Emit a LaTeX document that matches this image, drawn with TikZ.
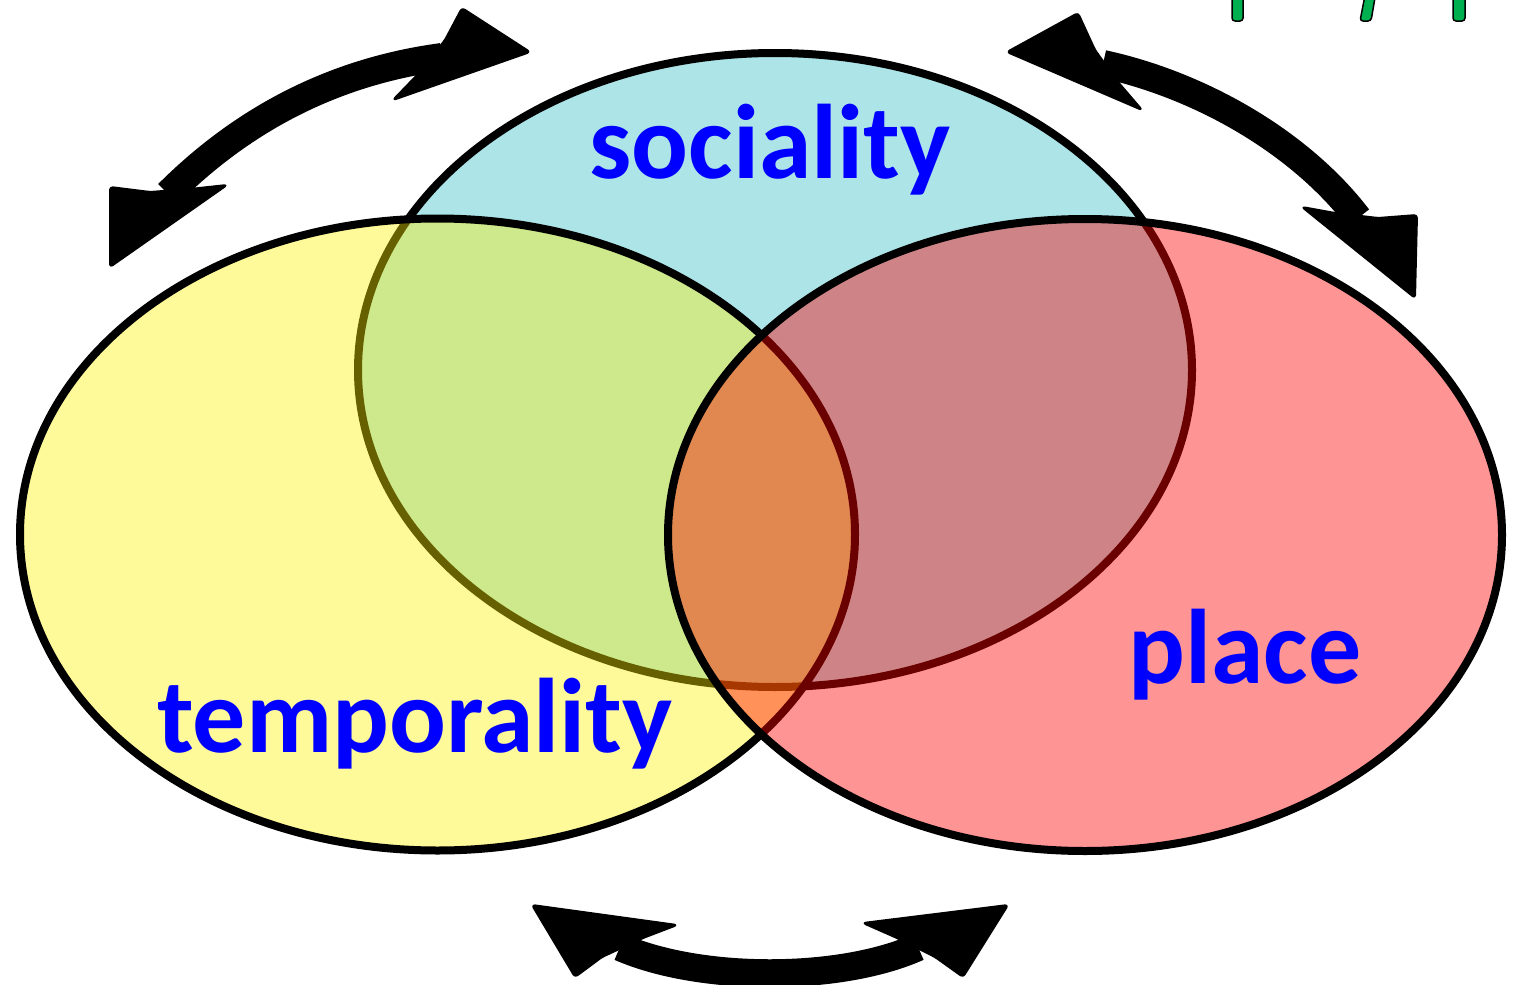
\documentclass[tikz,border=0pt]{standalone}
\usepackage{fontspec}
\setmainfont{Carlito}
\definecolor{socfill}{RGB}{172,228,232}
\definecolor{txtblue}{RGB}{0,0,255}
\definecolor{markgreen}{RGB}{0,176,80}
\tikzset{
  setline/.style={line width=8pt, draw=black},
  lbl/.style={text=txtblue, font=\fontsize{106}{120}\selectfont\bfseries, anchor=base, inner sep=0pt},
  band/.style={line width=28pt, draw=black},
  headfill/.style={fill=black, draw=black, line width=2pt, rounded corners=3pt, line join=round},
  greenbar/.style={fill=markgreen, draw=black, line width=1.5pt, rounded corners=3pt}
}
\begin{document}
\begin{tikzpicture}[x=1pt,y=-1pt]
\useasboundingbox (0,0) rectangle (1513,985);
\begin{scope}
\clip (0,0) rectangle (1513,985);
% sets
\path[setline, fill=socfill] (775,370) ellipse [x radius=417, y radius=317];
\path[setline, fill=yellow, fill opacity=0.4] (437.5,534.5) ellipse [x radius=417.5, y radius=316];
\path[setline, fill=red, fill opacity=0.42] (1085,535) ellipse [x radius=417, y radius=316];
% labels
\node[lbl] (soc) at (770,178) {sociality};
\node[lbl] (tem) at (415,752) {temporality};
\node[lbl] (pla) at (1245,683) {place};
% top-left arrow
\coordinate (tlA) at (168,194);
\coordinate (tlB) at (442,57);
\draw[band] (tlA) .. controls (240,122) and (330,72) .. (tlB);
\fill[headfill] (462,8) -- (530,52) -- (393,100) -- (420,72) -- (445,40) -- cycle;
\fill[headfill] (110,187) -- (150,192) -- (190,189) -- (227,185) -- (110,267) -- cycle;
% top-right arrow
\coordinate (trA) at (1103,64);
\coordinate (trB) at (1358,218);
\draw[band] (trA) .. controls (1200,85) and (1300,142) .. (trB);
\fill[headfill] (1078,13) -- (1095,50) -- (1118,82) -- (1142,110) -- (1007,52) -- cycle;
\fill[headfill] (1302,207) -- (1335,213) -- (1378,218) -- (1417,215) -- (1415,298) -- cycle;
% bottom arrow
\coordinate (bA) at (620,947);
\coordinate (bB) at (918,947);
\draw[band] (bA) .. controls (700,982) and (840,982) .. (bB);
\fill[headfill] (532,905) -- (677,925) -- (643,938) -- (602,957) -- (575,977) -- cycle;
\fill[headfill] (1008,905) -- (963,977) -- (935,957) -- (897,938) -- (863,923) -- cycle;
% green marks at top edge
\path[greenbar] (1232,-20) rectangle (1243,21);
\path[greenbar] (1368,-20) -- (1378,-20) -- (1371,21) -- (1360,21) -- cycle;
\path[greenbar] (1453,-20) rectangle (1465,21);
\end{scope}
\end{tikzpicture}
\end{document}
